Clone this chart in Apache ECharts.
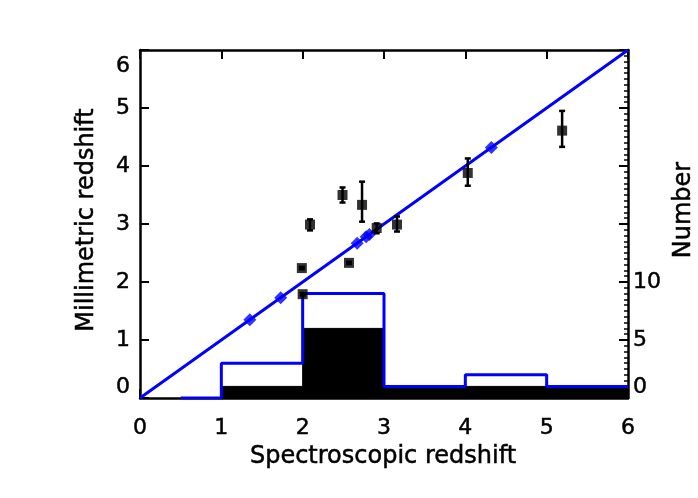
<!DOCTYPE html>
<html>
<head>
<meta charset="utf-8">
<script src="https://cdn.jsdelivr.net/npm/echarts@6/dist/echarts.min.js"></script>
<style>
  html, body { margin: 0; padding: 0; background: #fff; }
  #main { width: 698px; height: 498px; }
</style>
</head>
<body>
<div id="main"></div>
<script>
// measured sources: spectroscopic z vs millimetric z
const specZ = [1.99, 2.00, 2.09, 2.49, 2.57, 2.73, 2.91, 3.16, 4.03, 5.19]
const mmZ = [2.24, 1.79, 2.99, 3.50, 2.33, 3.33, 2.93, 2.99, 3.88, 4.61]
const mmLow = [2.22, 1.77, 2.89, 3.37, 2.31, 3.04, 2.84, 2.87, 3.66, 4.33]
const mmHigh = [2.26, 1.81, 3.08, 3.63, 2.35, 3.73, 3.01, 3.13, 4.13, 4.95]

// sources on the one-to-one line
const diamondZ = [1.35, 1.73, 2.67, 2.78, 2.82, 4.32]
const lineZ = [0, 6]

// histograms (bin edges and counts)
const allEdges = [0.5, 1, 2, 3, 4, 5, 6]
const allCounts = [0, 3, 9, 1, 2, 1, 1]
const fillEdges = [1, 2, 3, 4, 5, 6]
const fillCounts = [1, 6, 1, 1, 1, 1]

const numberLabels = [0, 5, 10]

const font = 'DejaVu Sans'
const blue = '#0000ff'

const myChart = echarts.init(document.getElementById('main'))

const axisCommon = {
  axisLine: { show: true, onZero: false, lineStyle: { color: '#000', width: 2.5 } },
  axisTick: { show: true, inside: true, length: 9, lineStyle: { color: '#000', width: 2 } },
  splitLine: { show: false }
}

// labels look slightly heavier than a plain regular face
const labelStyle = { color: '#000', fontSize: 22, fontFamily: font, textBorderColor: '#000', textBorderWidth: 0.5 }
const titleStyle = { font: '24px "DejaVu Sans"', fill: '#000', stroke: '#000', lineWidth: 0.5, align: 'center', verticalAlign: 'middle' }

let option = {
  animation: false,
  backgroundColor: '#fff',
  grid: { left: 140, right: 70, top: 50, bottom: 100, containLabel: false, outerBoundsMode: 'none' },
  xAxis: [
    {
      ...axisCommon,
      type: 'value', position: 'bottom', min: 0, max: 6, interval: 1,
      axisLabel: { ...labelStyle, margin: 19 }
    },
    {
      ...axisCommon,
      type: 'value', position: 'top', min: 0, max: 6, interval: 1,
      axisLabel: { show: false }
    }
  ],
  yAxis: [
    {
      ...axisCommon,
      type: 'value', position: 'left', min: 0, max: 6, interval: 1,
      axisLabel: {
        ...labelStyle, margin: 10,
        verticalAlignMinLabel: 'bottom', verticalAlignMaxLabel: 'top',
        formatter: v => v === 6 ? '{t|6}' : String(v),
        rich: { t: { ...labelStyle, padding: [5, 0, 0, 0] } }
      }
    },
    {
      ...axisCommon,
      type: 'value', position: 'right', min: 0, max: 30, interval: 5,
      minorTick: { show: true, splitNumber: 10, length: 4, lineStyle: { color: '#000', width: 1.5 } },
      axisLabel: {
        ...labelStyle, margin: 5,
        verticalAlignMinLabel: 'bottom',
        formatter: v => numberLabels.includes(v) ? String(v) : ''
      }
    }
  ],
  graphic: [
    { type: 'text', x: 383, y: 457, style: { text: 'Spectroscopic redshift', ...titleStyle } },
    { type: 'text', x: 87, y: 220, rotation: Math.PI / 2, style: { text: 'Millimetric redshift', ...titleStyle } },
    { type: 'text', x: 684, y: 210, rotation: Math.PI / 2, style: { text: 'Number', ...titleStyle } }
  ],
  series: [
    {
      type: 'line', xAxisIndex: 0, yAxisIndex: 1, step: 'end',
      data: fillEdges.map((x, i) => [x, fillCounts[i]]),
      symbol: 'none',
      lineStyle: { color: '#000', width: 1 },
      areaStyle: { color: '#000', opacity: 1 },
      z: 1
    },
    {
      type: 'line', xAxisIndex: 0, yAxisIndex: 1, step: 'end',
      data: allEdges.map((x, i) => [x, allCounts[i]]),
      symbol: 'none',
      lineStyle: { color: blue, width: 3 },
      z: 2
    },
    {
      type: 'line', xAxisIndex: 0, yAxisIndex: 0,
      data: lineZ.map(z => [z, z]),
      symbol: 'none',
      lineStyle: { color: blue, width: 3 },
      z: 3
    },
    {
      type: 'scatter', xAxisIndex: 0, yAxisIndex: 0,
      data: diamondZ.map(z => [z, z]),
      symbol: 'diamond', symbolSize: 13,
      itemStyle: { color: blue },
      z: 4
    },
    {
      type: 'custom', xAxisIndex: 0, yAxisIndex: 0,
      data: specZ.map((x, i) => [x, mmLow[i], mmHigh[i]]),
      encode: { x: 0, y: [1, 2] },
      renderItem: function (params, api) {
        const top = api.coord([api.value(0), api.value(2)])
        const bot = api.coord([api.value(0), api.value(1)])
        const st = { stroke: '#000', lineWidth: 2.5 }
        return {
          type: 'group',
          children: [
            { type: 'line', shape: { x1: top[0], y1: top[1], x2: bot[0], y2: bot[1] }, style: st },
            { type: 'line', shape: { x1: top[0] - 3, y1: top[1], x2: top[0] + 3, y2: top[1] }, style: st },
            { type: 'line', shape: { x1: bot[0] - 3, y1: bot[1], x2: bot[0] + 3, y2: bot[1] }, style: st }
          ]
        }
      },
      z: 5
    },
    {
      type: 'scatter', xAxisIndex: 0, yAxisIndex: 0,
      data: specZ.map((x, i) => [x, mmZ[i]]),
      symbol: 'rect', symbolSize: 10,
      itemStyle: { color: '#000' },
      z: 6
    }
  ]
}

myChart.setOption(option)
</script>
</body>
</html>
